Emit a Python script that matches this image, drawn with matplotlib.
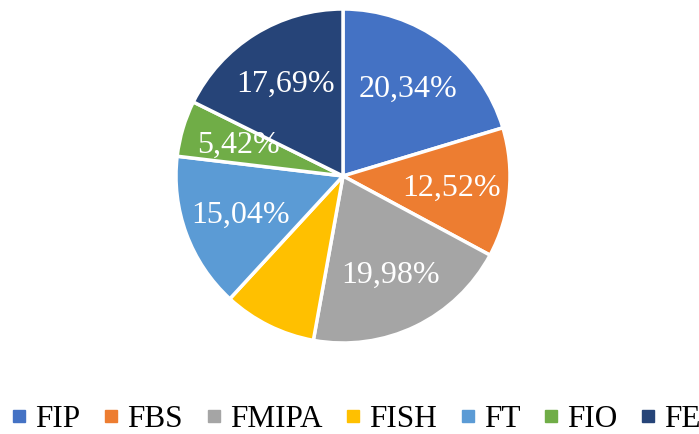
import matplotlib
matplotlib.use("Agg")
import matplotlib.pyplot as plt
from matplotlib.lines import Line2D
import numpy as np

categories = ["FIP", "FBS", "FMIPA", "FISH", "FT", "FIO", "FE"]
values = [20.34, 12.52, 19.98, 9.01, 15.04, 5.42, 17.69]
show_label = [True, True, True, False, True, True, True]
colors = ["#4472C4", "#ED7D31", "#A5A5A5", "#FFC000", "#5B9BD5", "#70AD47", "#264478"]

plt.rcParams['font.family'] = ['Liberation Serif', 'DejaVu Serif']

fig = plt.figure(figsize=(6.99, 4.35), dpi=100)
cx, cy, r = 343, 177, 167
ax = fig.add_axes([(cx - r) / 699, (435 - cy - r) / 435, 2 * r / 699, 2 * r / 435])

wedges, _ = ax.pie(values, colors=colors, startangle=90, counterclock=False,
                   wedgeprops=dict(edgecolor="white", linewidth=2.5))
total = sum(values)
cum = 0
for v, show in zip(values, show_label):
    mid = 90 - (cum + v / 2) / total * 360
    cum += v
    if show:
        d = 0.655
        ax.text(d * np.cos(np.radians(mid)), d * np.sin(np.radians(mid)),
                f"{v:.2f}%".replace(".", ","), ha="center", va="center",
                color="white", fontsize=23)
ax.set_xlim(-1, 1)
ax.set_ylim(-1, 1)
ax.set_aspect("equal")
ax.axis("off")

handles = [Line2D([0], [0], marker="s", linestyle="none", markersize=8,
                  markerfacecolor=c, markeredgecolor=c) for c in colors]
fig.legend(handles, categories, loc="center left", bbox_to_anchor=(13 / 699, 1 - 420 / 435),
           ncol=7, frameon=False, fontsize=22.5, handlelength=0.4, handletextpad=0.31,
           columnspacing=0.79, borderpad=0, borderaxespad=0)

fig.savefig("out.png", dpi=100)
